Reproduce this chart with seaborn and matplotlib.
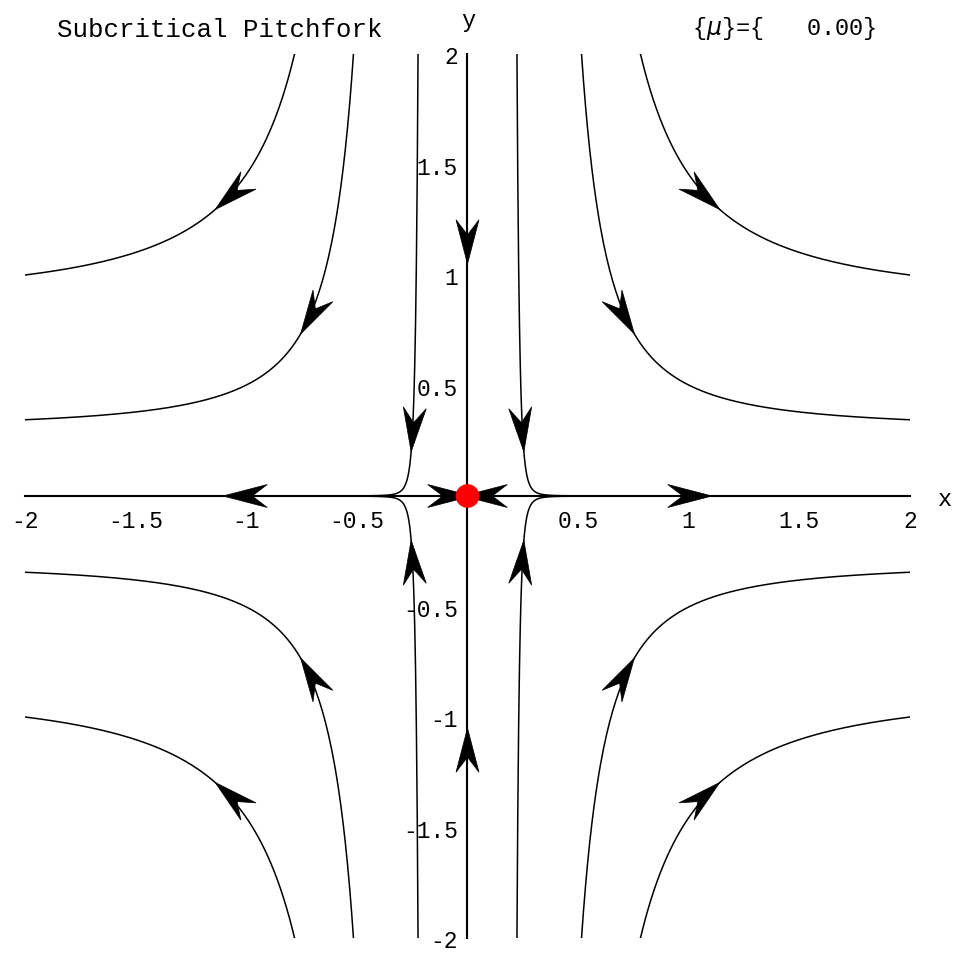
import numpy as np
import pandas as pd
import matplotlib
matplotlib.use("Agg")
import matplotlib.pyplot as plt
from matplotlib.patches import Polygon
import seaborn as sns

# Subcritical pitchfork normal form: x' = mu*x + x^3, y' = -y
mu = 0.0

# Trajectory families, labelled by where they sit
edge_levels = [1.0, 0.345]     # y reached at x = +-2 by the outer curves
inner_top_x = [0.2235]         # |x| where the inner curves meet y = +-2

# Arrowheads: |y| of the tip on each curve family
curve_arrow_y = [1.296, 0.733, 0.20]
# Arrowheads on the axes: (tip position, direction sign)
xaxis_arrows = [(-1.105, -1), (1.105, 1), (0.02, 1), (-0.02, -1)]
yaxis_arrows = [(1.05, -1), (-1.05, 1)]

x_ticks = [-2, -1.5, -1, -0.5, 0.5, 1, 1.5, 2]
x_tick_labels = ["-2", "-1.5", "-1", "-0.5", "0.5", "1", "1.5", "2"]
y_ticks = [-2, -1.5, -1, -0.5, 0.5, 1, 1.5, 2]
y_tick_labels = ["-2", "-1.5", "-1", "-0.5", "0.5", "1", "1.5", "2"]

sns.set_style("white")
plt.rcParams["font.family"] = ["Liberation Mono", "DejaVu Sans"]
plt.rcParams["axes.unicode_minus"] = False
plt.rcParams["text.color"] = "black"
plt.rcParams["xtick.color"] = "black"
plt.rcParams["ytick.color"] = "black"
plt.rcParams["xtick.labelcolor"] = "black"
plt.rcParams["ytick.labelcolor"] = "black"


def amp_from_point(x, y):
    # invariant of the flow for mu = 0: y * exp(-1/(2 x^2)) = const
    return y * np.exp(-1.0 / (2.0 * x * x))


def curve_y(amp, x):
    return amp * np.exp(1.0 / (2.0 * x * x))


def curve_x(amp, y):
    return np.sqrt(1.0 / (2.0 * np.log(y / amp)))


amps = [amp_from_point(2.0, v) for v in edge_levels]
amps += [amp_from_point(v, 2.0) for v in inner_top_x]

rows = []
cid = 0
for amp in amps:
    x_end = curve_x(amp, 2.0)
    xs = np.concatenate([np.linspace(x_end, 0.6, 400), np.linspace(0.6, 2.0, 200)[1:]])
    ys = curve_y(amp, xs)
    for sx in (1, -1):
        for sy in (1, -1):
            for a, b in zip(sx * xs, sy * ys):
                rows.append((cid, a, b))
            cid += 1
df = pd.DataFrame(rows, columns=["curve", "x", "y"])

fig = plt.figure(figsize=(9.59, 9.54), dpi=100)
ax = fig.add_axes([25 / 959, 15 / 954, 885 / 959, 884 / 954])

sns.lineplot(data=df, x="x", y="y", units="curve", estimator=None, sort=False,
             color="black", linewidth=1.1, ax=ax, legend=False)

ax.set_xlim(-2, 2)
ax.set_ylim(-2, 2)

for side in ("top", "right"):
    ax.spines[side].set_visible(False)
ax.spines["left"].set_position(("data", 0))
ax.spines["bottom"].set_position(("data", 0))
for side in ("left", "bottom"):
    ax.spines[side].set_linewidth(1.5)
    ax.spines[side].set_color("black")
    ax.spines[side].set_zorder(3)

ax.set_xticks(x_ticks)
ax.set_xticklabels(x_tick_labels)
ax.set_yticks(y_ticks)
ax.set_yticklabels(y_tick_labels)
ax.set_xticks(np.arange(-2, 2.01, 0.1), minor=True)
ax.set_yticks(np.arange(-2, 2.01, 0.1), minor=True)
ax.tick_params(which="major", direction="in", length=4, width=1.0, labelsize=16.5,
               color="black", labelcolor="black")
ax.tick_params(which="minor", direction="in", length=2.5, width=0.9, color="black")
ax.tick_params(axis="x", which="major", pad=9)
ax.tick_params(axis="y", which="major", pad=7)
ax.grid(False)

# arrowhead geometry (data units)
L, W, NOTCH = 0.20, 0.052, 0.66


def arrowhead(tx, ty, dx, dy):
    n = np.hypot(dx, dy)
    dx, dy = dx / n, dy / n
    px, py = -dy, dx
    pts = [
        (tx, ty),
        (tx - L * dx + W * px, ty - L * dy + W * py),
        (tx - NOTCH * L * dx, ty - NOTCH * L * dy),
        (tx - L * dx - W * px, ty - L * dy - W * py),
    ]
    ax.add_patch(Polygon(pts, closed=True, facecolor="black", edgecolor="black",
                         linewidth=0.5, zorder=4))


for amp, ay in zip(amps, curve_arrow_y):
    axx = curve_x(amp, ay)
    for sx in (1, -1):
        for sy in (1, -1):
            x0, y0 = sx * axx, sy * ay
            arrowhead(x0, y0, mu * x0 + x0 ** 3, -y0)

for pos, sgn in xaxis_arrows:
    arrowhead(pos, 0.0, sgn, 0.0)
for pos, sgn in yaxis_arrows:
    arrowhead(0.0, pos, 0.0, sgn)

# equilibrium at the origin
eq = pd.DataFrame({"x": [0.0], "y": [0.0]})
sns.scatterplot(data=eq, x="x", y="y", s=290, color="red", edgecolor="none",
                zorder=6, ax=ax, legend=False, clip_on=False)
ax.set_xlabel("")
ax.set_ylabel("")

fig.text(945 / 959, 1 - 500 / 954, "x", fontsize=17, ha="center", va="center",
         color="black")
fig.text(468 / 959, 1 - 20 / 954, "y", fontsize=17, ha="center", va="center",
         color="black")
fig.text(57 / 959, 1 - 37 / 954, "Subcritical Pitchfork", fontsize=18.5,
         ha="left", va="baseline", color="black")
fig.text(692 / 959, 1 - 35 / 954, "{$\\mu$}={   %.2f}" % mu, fontsize=17,
         ha="left", va="baseline", color="black")

fig.savefig("out.png", dpi=100)
